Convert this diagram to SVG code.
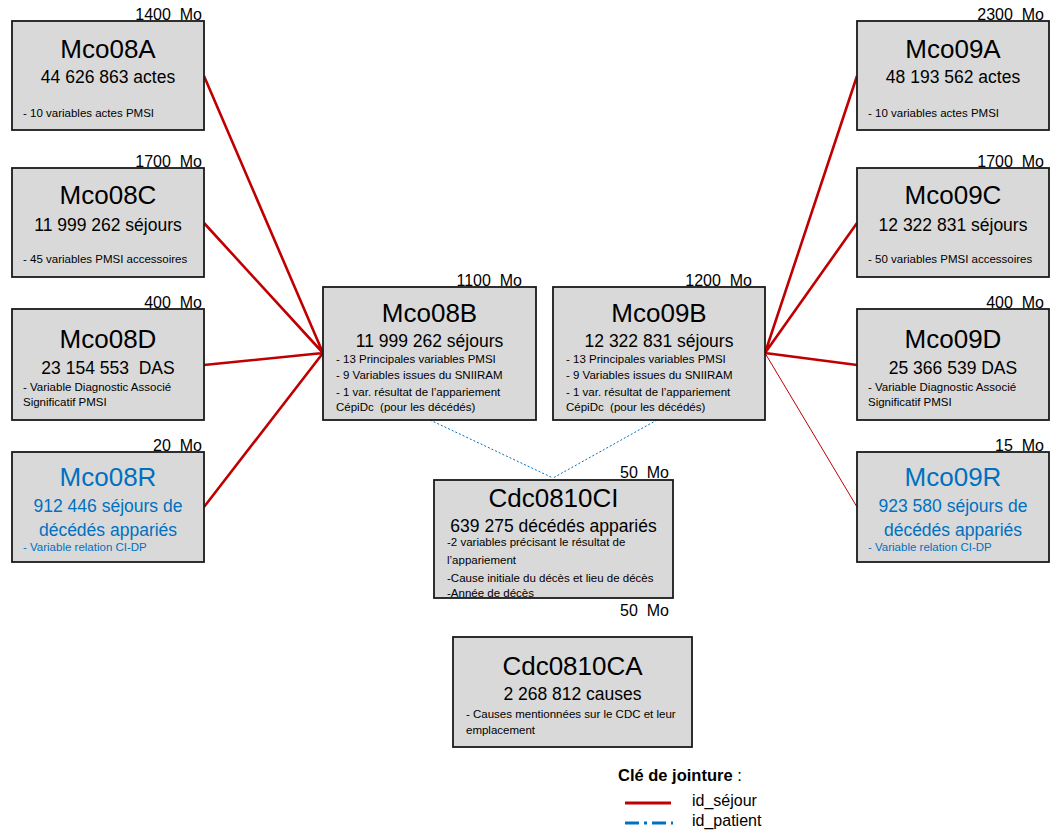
<svg xmlns="http://www.w3.org/2000/svg" width="1053" height="834" viewBox="0 0 1053 834">
<style>
.box{fill:#d9d9d9;stroke:#1a1a1a;stroke-width:1.8}
.t{font-family:"Liberation Sans",Arial,sans-serif;fill:#000}
.title{font-size:26px;text-anchor:middle}
.sub{font-size:17.5px;text-anchor:middle}
.sm{font-size:11.5px}
.mo{font-size:16px;text-anchor:end}
.blue{fill:#0070c0}
.red{stroke:#c00000;stroke-width:2.6;fill:none}
.redthin{stroke:#c00000;stroke-width:1;fill:none}
.dot{stroke:#0070c0;stroke-width:1;stroke-dasharray:2 2;fill:none}
</style>
<rect width="1053" height="834" fill="#fff"/>
<g id="connectors">
<path class="red" d="M204,76 L323,353 M204,223 L323,353 M204,365 L323,353 M204,507 L323,353"/>
<path class="red" d="M857,76 L765,353 M857,223 L765,353 M857,365 L765,353"/>
<path class="redthin" d="M857,507 L765,353"/>
<path class="dot" d="M430,420 L553,478 M657,420 L553,478"/>
</g>
<g id="Mco08A">
<rect class="box" x="12" y="21" width="192" height="109"/>
<text class="t mo" x="202" y="20">1400&#160; Mo</text>
<text class="t title" x="108" y="58">Mco08A</text>
<text class="t sub" x="108" y="83">44 626 863 actes</text>
<text class="t sm" x="23" y="117">- 10 variables actes PMSI</text>
</g>
<g id="Mco08C">
<rect class="box" x="12" y="168" width="192" height="109"/>
<text class="t mo" x="202" y="167">1700&#160; Mo</text>
<text class="t title" x="108" y="204">Mco08C</text>
<text class="t sub" x="108" y="231">11 999 262 séjours</text>
<text class="t sm" x="23" y="263">- 45 variables PMSI accessoires</text>
</g>
<g id="Mco08D">
<rect class="box" x="12" y="309" width="192" height="111"/>
<text class="t mo" x="202" y="308">400&#160; Mo</text>
<text class="t title" x="108" y="348">Mco08D</text>
<text class="t sub" x="108" y="374">23 154 553&#160; DAS</text>
<text class="t sm" x="23" y="391">- Variable Diagnostic Associé</text>
<text class="t sm" x="23" y="406">Significatif PMSI</text>
</g>
<g id="Mco08R">
<rect class="box" x="12" y="452" width="192" height="110"/>
<text class="t mo" x="202" y="451">20&#160; Mo</text>
<text class="t title blue" x="108" y="486">Mco08R</text>
<text class="t sub blue" x="108" y="512">912 446 séjours de</text>
<text class="t sub blue" x="108" y="536">décédés appariés</text>
<text class="t sm blue" x="23" y="551">- Variable relation CI-DP</text>
</g>
<g id="Mco08B">
<rect class="box" x="323" y="287" width="213" height="133"/>
<text class="t mo" x="522" y="286">1100&#160; Mo</text>
<text class="t title" x="429.5" y="322">Mco08B</text>
<text class="t sub" x="429.5" y="347">11 999 262 séjours</text>
<text class="t sm" x="336" y="363">- 13 Principales variables PMSI</text>
<text class="t sm" x="336" y="379">- 9 Variables issues du SNIIRAM</text>
<text class="t sm" x="336" y="396">- 1 var. résultat de l’appariement</text>
<text class="t sm" x="336" y="411">CépiDc&#160; (pour les décédés)</text>
</g>
<g id="Mco09B">
<rect class="box" x="553" y="287" width="212" height="133"/>
<text class="t mo" x="752" y="286">1200&#160; Mo</text>
<text class="t title" x="659" y="322">Mco09B</text>
<text class="t sub" x="659" y="347">12 322 831 séjours</text>
<text class="t sm" x="566" y="363">- 13 Principales variables PMSI</text>
<text class="t sm" x="566" y="379">- 9 Variables issues du SNIIRAM</text>
<text class="t sm" x="566" y="396">- 1 var. résultat de l’appariement</text>
<text class="t sm" x="566" y="411">CépiDc&#160; (pour les décédés)</text>
</g>
<g id="Mco09A">
<rect class="box" x="857" y="21" width="192" height="109"/>
<text class="t mo" x="1044" y="20">2300&#160; Mo</text>
<text class="t title" x="953" y="58">Mco09A</text>
<text class="t sub" x="953" y="83">48 193 562 actes</text>
<text class="t sm" x="868" y="117">- 10 variables actes PMSI</text>
</g>
<g id="Mco09C">
<rect class="box" x="857" y="168" width="192" height="109"/>
<text class="t mo" x="1044" y="167">1700&#160; Mo</text>
<text class="t title" x="953" y="204">Mco09C</text>
<text class="t sub" x="953" y="231">12 322 831 séjours</text>
<text class="t sm" x="868" y="263">- 50 variables PMSI accessoires</text>
</g>
<g id="Mco09D">
<rect class="box" x="857" y="309" width="192" height="111"/>
<text class="t mo" x="1044" y="308">400&#160; Mo</text>
<text class="t title" x="953" y="348">Mco09D</text>
<text class="t sub" x="953" y="374">25 366 539 DAS</text>
<text class="t sm" x="868" y="391">- Variable Diagnostic Associé</text>
<text class="t sm" x="868" y="406">Significatif PMSI</text>
</g>
<g id="Mco09R">
<rect class="box" x="857" y="452" width="192" height="110"/>
<text class="t mo" x="1044" y="451">15&#160; Mo</text>
<text class="t title blue" x="953" y="486">Mco09R</text>
<text class="t sub blue" x="953" y="512">923 580 séjours de</text>
<text class="t sub blue" x="953" y="536">décédés appariés</text>
<text class="t sm blue" x="868" y="551">- Variable relation CI-DP</text>
</g>
<g id="Cdc0810CI">
<rect class="box" x="434" y="480" width="239" height="118"/>
<text class="t mo" x="669" y="478">50&#160; Mo</text>
<text class="t title" x="553.5" y="507">Cdc0810CI</text>
<text class="t sub" x="553.5" y="532">639 275 décédés appariés</text>
<text class="t sm" x="447" y="546">-2 variables précisant le résultat de</text>
<text class="t sm" x="447" y="564">l’appariement</text>
<text class="t sm" x="447" y="582">-Cause initiale du décès et lieu de décès</text>
<text class="t sm" x="447" y="597">-Année de décès</text>
</g>
<g id="Cdc0810CA">
<text class="t mo" x="669" y="616">50&#160; Mo</text>
<rect class="box" x="453" y="637" width="239" height="110"/>
<text class="t title" x="572.5" y="675">Cdc0810CA</text>
<text class="t sub" x="572.5" y="700">2 268 812 causes</text>
<text class="t sm" x="466" y="718">- Causes mentionnées sur le CDC et leur</text>
<text class="t sm" x="466" y="734">emplacement</text>
</g>
<g id="legend">
<text class="t" x="618" y="781" font-size="16.5"><tspan font-weight="bold">Clé de jointure</tspan> :</text>
<line x1="625" y1="803" x2="671" y2="803" stroke="#c00000" stroke-width="3"/>
<line x1="625" y1="823" x2="673" y2="823" stroke="#0070c0" stroke-width="3" stroke-dasharray="14 5 3 5"/>
<text class="t" x="692" y="806" font-size="16">id_séjour</text>
<text class="t" x="692" y="826" font-size="16">id_patient</text>
</g>
</svg>
